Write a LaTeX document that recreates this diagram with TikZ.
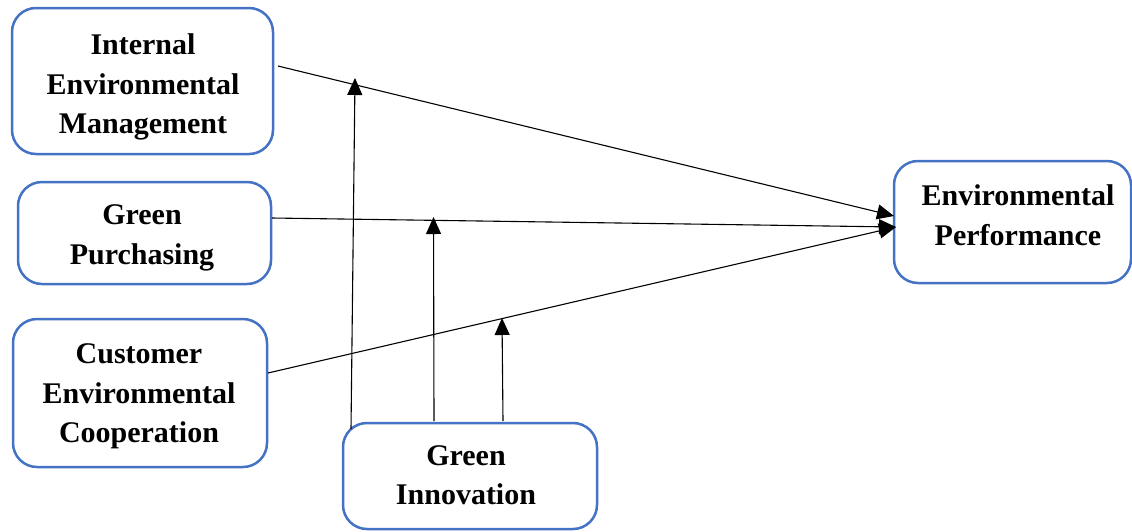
\documentclass[tikz,border=0pt]{standalone}
\usepackage{fontspec}
\setmainfont{Liberation Serif}
\usetikzlibrary{arrows.meta}
\definecolor{boxblue}{HTML}{4472C4}
\begin{document}
\begin{tikzpicture}[x=1pt,y=-1pt,
  box/.style={draw=boxblue, line width=2.5pt, rounded corners=24pt, rectangle, inner sep=0pt},
  lbl/.style={align=center, inner sep=0pt, font=\fontsize{30}{39.5}\selectfont\bfseries},
  conn/.style={draw=black, line width=1.1pt, -{Triangle[length=17pt,width=15pt]}}]
\useasboundingbox (0,0) rectangle (1132,531);
% boxes
\node[box, minimum width=261pt, minimum height=146pt] (iem) at (142.5,81) {};
\node[box, minimum width=253pt, minimum height=102pt] (gp) at (144.5,233) {};
\node[box, minimum width=254pt, minimum height=148pt] (cec) at (140,393) {};
\node[box, minimum width=254pt, minimum height=106pt] (gi) at (470,476) {};
\node[box, minimum width=237pt, minimum height=122pt] (ep) at (1012.5,222) {};
% labels
\node[lbl] (iemt) at (143,87) {Internal\\Environmental\\Management};
\node[lbl] (gpt) at (142,238) {Green\\Purchasing};
\node[lbl] (cect) at (139,396.5) {Customer\\Environmental\\Cooperation};
\node[lbl] (git) at (466,475) {Green\\Innovation};
\node[lbl] (ept) at (1018,215) {Environmental\\Performance};
% connector end points
\coordinate (s1) at (278,66);
\coordinate (s2) at (272,218);
\coordinate (s3) at (268,373);
\coordinate (t1) at (894,216);
\coordinate (t2) at (896,227);
\coordinate (g1) at (351,429);
\coordinate (g2) at (434,421);
\coordinate (g3) at (503,421);
\coordinate (m1) at (355,78);
\coordinate (m2) at (433.5,217);
\coordinate (m3) at (502,318);
% main paths
\draw[conn] (s1) -- (t1);
\draw[conn] (s2) -- (t2);
\draw[conn] (s3) -- (t2);
% moderation paths
\draw[conn] (g1) -- (m1);
\draw[conn] (g2) -- (m2);
\draw[conn] (g3) -- (m3);
\end{tikzpicture}
\end{document}
